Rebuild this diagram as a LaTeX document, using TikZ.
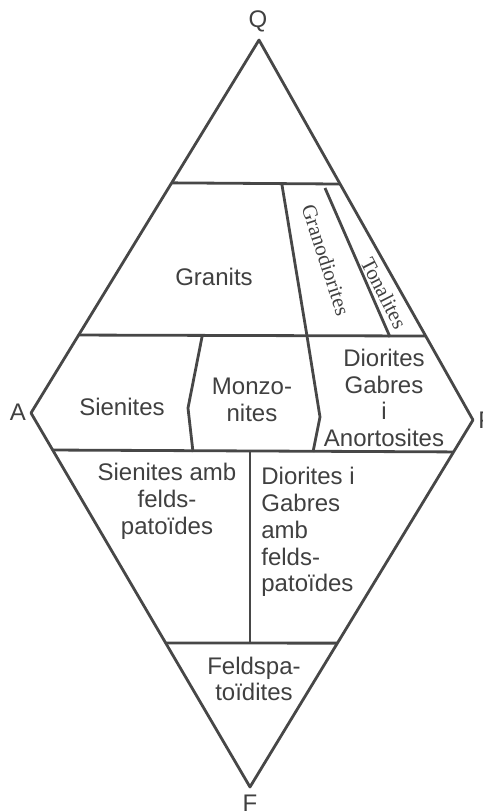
\documentclass[tikz,border=0pt]{standalone}
\usepackage{fontspec}
\setmainfont{Liberation Sans}
\newfontfamily\rotfont{Liberation Serif}
\usetikzlibrary{calc}
\begin{document}
\begin{tikzpicture}
  [x=0.5pt,y=0.5pt,
   every node/.style={text=black!75,font=\fontsize{12}{13.4}\selectfont,inner sep=0pt},
   edge/.style={line width=1.4pt,draw=black!72,line join=round},
   vertex/.style={font=\fontsize{12}{13}\selectfont}]
  \useasboundingbox (0,0) rectangle (483,811);

  % vertices of the double triangle
  \coordinate (Q) at (259,771);
  \coordinate (A) at (31,398);
  \coordinate (P) at (473,391);
  \coordinate (F) at (250,24);

  % ends of the cross lines on the sides
  \coordinate (a1) at ($(Q)!0.383!(A)$);
  \coordinate (p1) at ($(Q)!0.379!(P)$);
  \coordinate (a2) at ($(Q)!0.791!(A)$);
  \coordinate (p2) at ($(Q)!0.779!(P)$);
  \coordinate (a3) at ($(A)!0.099!(F)$);
  \coordinate (p3) at ($(P)!0.087!(F)$);
  \coordinate (a4) at ($(A)!0.615!(F)$);
  \coordinate (p4) at ($(P)!0.608!(F)$);

  % inner boundaries
  \coordinate (g1) at (282,626);
  \coordinate (g2) at (307,475);
  \coordinate (g3) at (320,394);
  \coordinate (g4) at (313,359);
  \coordinate (t1) at (325,623);
  \coordinate (t2) at (390,474);
  \coordinate (s1) at (202,474);
  \coordinate (s2) at (188,403);
  \coordinate (s3) at (193,359);
  \coordinate (f1) at (250,359);
  \coordinate (f2) at (250,168);

  \draw[edge] (Q) -- (A) -- (F) -- (P) -- cycle;

  \foreach \from/\to in {a1/p1, a2/p2, a3/p3, a4/p4, t1/t2, f1/f2}
    \draw[edge] (\from) -- (\to);
  \draw[edge] (g1) -- (g2) -- (g3) -- (g4);
  \draw[edge] (s1) -- (s2) -- (s3);

  % vertex labels
  \node[vertex] (lq) at (258,790) {Q};
  \node[vertex] (la) at (18,399) {A};
  \node[vertex,anchor=west] (lp) at (478,391) {P};
  \node[vertex] (lf) at (250,8) {F};

  % fields
  \node (granits) at (214,534) {Granits};
  \node[rotate=-72] (granodiorites) at (326,551) {\rotfont\fontsize{10.5}{11}\selectfont Granodiorites};
  \node[rotate=-63] (tonalites) at (384,518) {\rotfont\fontsize{10.5}{11}\selectfont Tonalites};
  \node (sienites) at (122,404) {Sienites};
  \node[align=center] (monzonites) at (252,411) {Monzo-\\nites};
  \node[align=center] (diorites) at (384,413) {Diorites\\Gabres\\i\\Anortosites};
  \node[align=center] (sienitesf) at (167,310) {Sienites amb\\felds-\\patoïdes};
  \node[align=left,anchor=west] (dioritesf) at (261,279) {Diorites i\\Gabres\\amb\\felds-\\patoïdes};
  \node[align=center] (feldspatoidites) at (254,132) {Feldspa-\\toïdites};

\end{tikzpicture}
\end{document}
